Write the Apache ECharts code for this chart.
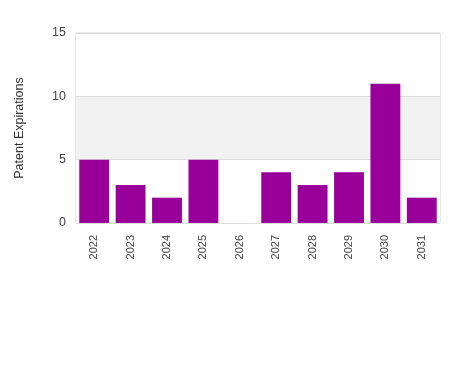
<!DOCTYPE html>
<html><head><meta charset="utf-8">
<script src="https://cdn.jsdelivr.net/npm/echarts@6/dist/echarts.min.js"></script>
<style>html,body{margin:0;padding:0;background:#fff}#c{width:450px;height:375px}</style>
</head><body><div id="c"></div>
<script>
const years = ['2022','2023','2024','2025','2026','2027','2028','2029','2030','2031'];
const expirations = [5,3,2,5,0,4,3,4,11,2];
const yTicks = [0,5,10,15];
const chart = echarts.init(document.getElementById('c'), null, {renderer:'canvas'});
chart.setOption({
  animation:false,
  grid:{left:76,right:10,top:33,bottom:152,show:true,borderColor:'#d4d4d4',borderWidth:1,backgroundColor:'transparent'},
  xAxis:{type:'category',data:years,
    axisLine:{show:false},axisTick:{show:false},
    axisLabel:{rotate:90,color:'#444',fontFamily:'Arial, Liberation Sans',fontSize:11,margin:12}},
  yAxis:{type:'value',min:0,max:15,interval:5,
    name:'Patent Expirations',nameLocation:'middle',nameGap:50,nameRotate:90,
    nameTextStyle:{color:'#333',fontFamily:'Arial, Liberation Sans',fontSize:12.5},
    axisLine:{show:false},axisTick:{show:false},
    axisLabel:{color:'#444',fontFamily:'Arial, Liberation Sans',fontSize:12.5,margin:10},
    splitLine:{show:true,lineStyle:{color:'#dcdcdc'}},
    splitArea:{show:true,areaStyle:{color:['#ffffff','#f2f2f2']}}},
  series:[{type:'bar',data:expirations,barCategoryGap:'18%',itemStyle:{color:'#990099'}}]
});
</script></body></html>
